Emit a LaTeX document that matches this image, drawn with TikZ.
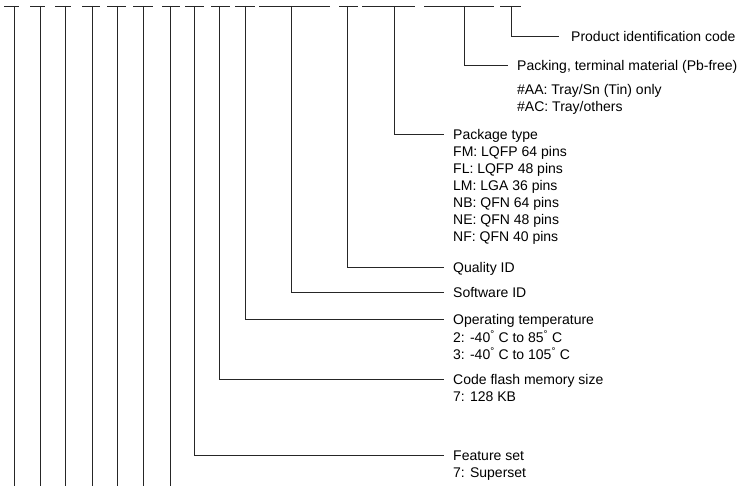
\documentclass[tikz,border=0pt]{standalone}
\usepackage{fontspec}
\setmainfont{Liberation Sans}
\newcommand{\dg}{\textsuperscript{°}}
\begin{document}
\begin{tikzpicture}[x=1pt,y=-1pt,
  ln/.style={line width=0.85pt, draw=black!85},
  lbl/.style={anchor=north west, inner xsep=9pt, inner ysep=0pt, align=left,
    font=\fontsize{14}{17}\selectfont},
]
\useasboundingbox (0,0) rectangle (744,486);
% top segments: left, right, vertical x
\foreach \i/\l/\r/\v in {1/4/19/14.7, 2/30/45/40, 3/55/71/65.3, 4/82/100/92.3,
  5/107/126/117.7, 6/133/153/143.7, 7/162/180/170.7, 8/185/204/194.3,
  9/211/230/219.7, 10/235/255/245.3, 11/259/330/291, 12/339/358/347.3,
  13/362/415/394, 14/424/494/464, 15/500/521/511}{
  \coordinate (sL\i) at (\l,6);
  \coordinate (sR\i) at (\r,6);
  \coordinate (t\i) at (\v,6);
  \coordinate (b\i) at (\v,488);
  \draw[ln] (sL\i) -- (sR\i);
}
% verticals running off the bottom
\foreach \i in {1,...,7}{
  \draw[ln] (t\i) -- (b\i);
}
% corners
\coordinate (c15) at (511,36);
\coordinate (c14) at (464,65);
\coordinate (c13) at (394,134);
\coordinate (c12) at (347.3,267);
\coordinate (c11) at (291,292);
\coordinate (c10) at (245.3,319);
\coordinate (c9) at (219.7,379);
\coordinate (c8) at (194.3,455);
% labels
\node[lbl, inner xsep=12pt] (n15) at (559,29) {\strut Product identification code};
\node[lbl] (n14) at (508,58) {\strut Packing, terminal material (Pb-free)\\[7pt]
  \#AA: Tray/Sn (Tin) only\\ \#AC: Tray/others};
\node[lbl] (n13) at (444,127) {\strut Package type\\ FM: LQFP 64 pins\\ FL: LQFP 48 pins\\
  LM: LGA 36 pins\\ NB: QFN 64 pins\\ NE: QFN 48 pins\\ NF: QFN 40 pins};
\node[lbl] (n12) at (444,260) {\strut Quality ID};
\node[lbl] (n11) at (444,285) {\strut Software ID};
\node[lbl] (n10) at (444,312) {\strut Operating temperature\\ 2: -40\dg\ C to 85\dg\ C\\
  3: -40\dg\ C to 105\dg\ C};
\node[lbl] (n9) at (444,372) {\strut Code flash memory size\\ 7: 128 KB};
\node[lbl] (n8) at (444,448) {\strut Feature set\\ 7: Superset};
% connectors
\foreach \i in {8,...,15}{
  \draw[ln] (t\i) -- (c\i) -- (c\i -| n\i.west);
}
\end{tikzpicture}
\end{document}
